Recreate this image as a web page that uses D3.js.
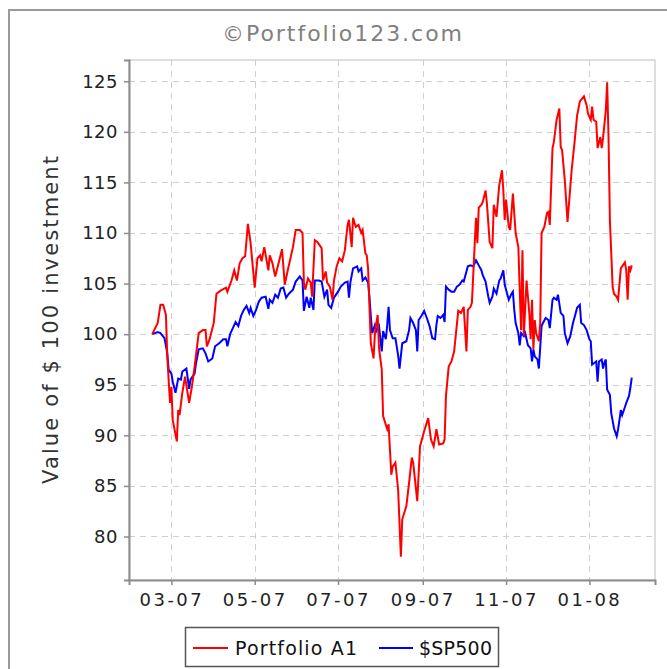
<!DOCTYPE html>
<html>
<head>
<meta charset="utf-8">
<script src="https://cdn.jsdelivr.net/npm/d3@7/dist/d3.min.js"></script>
<style>
  html, body { margin: 0; padding: 0; background: #fff; }
  svg { display: block; }
  text { font-family: "DejaVu Sans", sans-serif; }
</style>
</head>
<body>
<svg id="chart" width="667" height="669"></svg>
<script>
// ---------------- data ----------------
const chartTitle = "©Portfolio123.com";
const yAxisTitle = "Value of $ 100 investment";
const seriesNames = ["Portfolio A1", "$SP500"];
const seriesColors = ["#ff0000", "#0000ff"];
const yTicks = [80, 85, 90, 95, 100, 105, 110, 115, 120, 125];
const xTickLabels = ["03-07", "05-07", "07-07", "09-07", "11-07", "01-08"];
const baseDate = "2007-03-01"; // day offsets below are counted from this date

const portfolioDays = [-14,-10,-8,-6,-4,-3,-1,0,1,4,5,6,8,10,13,15,17,20,23,25,26,28,31,33,36,40,41,44,46,48,50,52,54,56,58,61,63,65,66,68,71,72,74,76,79,81,83,85,89,91,94,96,97,98,100,102,103,105,107,110,111,113,114,116,118,119,121,123,125,127,128,129,130,132,133,135,137,139,140,142,143,144,145,146,148,149,151,152,154,155,158,159,161,162,164,166,168,169,172,174,176,177,180,182,185,188,190,192,194,196,199,200,201,203,205,207,210,212,214,216,217,219,220,222,223,224,225,227,228,230,231,233,235,236,238,240,242,243,244,245,247,248,250,252,254,255,256,257,258,260,261,262,263,264,265,266,267,269,270,271,273,275,276,277,279,280,282,284,285,286,288,290,293,295,297,299,302,304,305,307,308,309,311,312,314,315,316,318,319,320,321,323,324,326,327,329,330,332,333,334,335,336,337];
const portfolioValues = [100.0,101.1,102.9,102.9,101.9,97.8,93.2,94.8,91.5,89.4,92.5,92.0,94.2,95.8,93.2,94.8,96.8,100.1,100.4,100.4,98.8,99.5,101.1,104.0,104.3,104.6,104.2,105.3,106.3,105.3,107.0,107.5,107.7,110.9,109.0,104.6,107.5,107.8,107.2,108.6,106.3,107.8,107.0,105.7,107.3,108.4,104.9,106.2,108.6,110.3,110.3,110.0,105.1,104.4,105.5,105.1,103.7,109.3,109.1,108.5,105.3,106.2,105.1,104.7,103.4,105.3,106.7,107.5,107.2,108.3,109.6,110.8,111.3,108.6,111.5,110.6,110.8,110.0,110.3,108.0,107.8,106.5,102.7,99.1,97.6,100.1,101.9,98.6,96.5,91.9,90.6,91.1,86.1,86.9,87.3,84.6,78.0,81.7,83.0,85.3,87.8,87.3,83.5,88.9,90.4,91.7,89.6,88.9,90.6,89.1,89.2,89.6,93.9,96.8,97.3,98.3,102.3,102.1,102.7,98.3,102.4,102.7,103.1,108.8,111.5,109.0,112.5,112.8,113.1,114.2,112.9,109.1,108.5,112.8,111.6,114.7,116.2,114.2,111.3,113.3,110.6,110.3,113.9,110.0,108.6,104.4,100.4,108.3,99.8,105.3,103.7,102.1,99.5,103.4,98.5,101.4,100.1,99.3,101.1,110.0,110.6,112.0,112.1,110.8,118.4,119.0,121.2,122.3,118.5,118.2,115.2,111.1,116.2,118.8,121.6,123.0,123.5,122.6,121.8,121.2,122.5,121.2,121.0,118.4,119.5,118.4,119.4,122.1,124.9,119.5,111.3,104.7,104.0,103.7,103.4,106.5,106.7,107.1,106.3,103.4,106.7,106.3,106.8];

const spDays = [-14,-10,-8,-5,-3,-2,0,1,3,5,7,8,11,13,14,17,18,20,23,25,27,30,32,35,38,40,41,43,45,47,49,51,53,55,57,58,60,62,64,66,69,71,72,74,76,78,80,82,84,86,89,91,94,96,97,99,101,102,104,105,108,110,112,114,115,117,119,122,124,127,129,130,131,133,136,137,139,140,142,144,145,146,147,149,150,152,154,155,157,158,159,160,162,164,166,167,169,172,174,175,177,179,180,181,183,185,187,189,191,193,194,195,197,199,200,201,203,205,207,209,211,213,214,216,217,219,221,223,225,227,228,230,232,233,235,236,238,240,241,243,244,245,247,249,250,251,252,254,255,256,258,259,261,263,264,265,266,268,269,271,272,274,276,277,279,280,282,283,285,287,288,290,292,294,296,297,299,300,302,304,306,307,308,310,311,312,313,315,316,317,318,319,321,322,324,326,327,328,329,330,332,333,335,336,337];
const spValues = [100.0,100.2,100.1,99.6,98.1,96.5,96.1,95.3,94.2,95.6,95.5,96.3,96.6,94.6,95.5,96.1,97.1,98.5,98.6,98.1,97.3,97.6,98.8,99.1,99.5,99.5,98.8,100.0,100.6,101.2,100.8,101.8,102.4,102.8,102.1,102.6,101.8,102.4,103.2,103.6,103.7,102.5,103.4,103.1,103.9,103.6,104.5,104.6,103.6,104.0,104.4,105.2,105.7,105.3,102.3,103.7,102.6,103.6,102.4,105.3,105.3,105.2,103.7,104.4,102.9,102.6,103.6,104.2,104.7,105.1,105.2,103.6,105.1,106.5,106.7,106.2,106.5,105.3,105.6,105.1,103.7,101.8,100.1,100.9,100.3,100.8,98.3,100.3,99.5,100.9,102.7,100.4,99.6,99.6,97.9,96.6,99.1,99.3,100.4,101.6,101.1,100.4,98.3,101.4,101.8,102.3,101.6,100.8,99.6,99.5,100.9,101.8,101.6,101.9,101.2,104.7,104.4,104.2,104.2,104.7,104.9,105.3,105.2,106.2,106.7,106.8,106.7,107.3,106.8,106.3,105.8,105.2,103.7,103.1,103.7,104.5,104.0,105.3,105.5,106.3,104.9,104.4,103.4,104.0,104.2,102.4,101.1,100.1,98.9,100.1,99.8,100.1,98.9,98.6,97.3,98.5,97.8,97.5,96.6,100.8,101.1,101.6,101.4,100.6,103.4,103.6,103.4,103.9,102.1,101.8,100.1,99.1,99.8,101.1,102.1,102.6,102.9,101.1,100.9,100.4,99.5,99.3,97.0,97.2,97.3,95.3,97.3,97.5,96.6,97.2,97.5,94.5,94.0,92.2,90.7,89.9,90.6,91.5,92.5,92.0,92.8,93.2,93.9,94.7,95.7];

// ---------------- layout ----------------
const svg = d3.select("#chart");
const W = 667, H = 669;
const plot = { left: 129, top: 60, right: 655, bottom: 580 };

const base = d3.utcParse("%Y-%m-%d")(baseDate);
const toDate = d => d3.utcDay.offset(base, d);
const series = [
  { name: seriesNames[0], color: seriesColors[0], pts: portfolioDays.map((d, i) => ({ date: toDate(d), value: portfolioValues[i] })) },
  { name: seriesNames[1], color: seriesColors[1], pts: spDays.map((d, i) => ({ date: toDate(d), value: spValues[i] })) }
];

// axis range with ~5% margin around the data, as in the source chart
const allDates = series.flatMap(s => s.pts.map(p => +p.date));
const dMin = d3.min(allDates), dMax = d3.max(allDates);
const pad = (dMax - dMin) * 0.0485;
const x = d3.scaleUtc().domain([new Date(dMin - pad), new Date(dMax + pad)]).range([plot.left, plot.right]);
const y = d3.scaleLinear().domain([75.7, 127.1]).range([plot.bottom, plot.top]);

// outer frame
svg.append("rect").attr("x", 9).attr("y", 10).attr("width", W + 20).attr("height", H + 20)
  .attr("fill", "#fff").attr("stroke", "#9a9a9a").attr("stroke-width", 2);

// title
svg.append("text").attr("x", 342).attr("y", 41).attr("text-anchor", "middle")
  .attr("font-size", 22).attr("fill", "#808080")
  .attr("textLength", 240).attr("lengthAdjust", "spacing")
  .text(chartTitle);

// plot background + border
svg.append("rect").attr("x", plot.left).attr("y", plot.top)
  .attr("width", plot.right - plot.left).attr("height", plot.bottom - plot.top)
  .attr("fill", "#fff").attr("stroke", "#c8c8c8").attr("stroke-width", 1.2);

const parseTick = d3.utcParse("%m-%y");
const xTickDates = xTickLabels.map(parseTick);

// gridlines
const grid = svg.append("g").attr("stroke", "#cfcfcf").attr("stroke-width", 1).attr("stroke-dasharray", "6,5");
grid.selectAll("line.h").data(yTicks).join("line")
  .attr("x1", plot.left).attr("x2", plot.right)
  .attr("y1", d => Math.round(y(d)) + 0.5).attr("y2", d => Math.round(y(d)) + 0.5);
grid.selectAll("line.v").data(xTickDates).join("line")
  .attr("y1", plot.top).attr("y2", plot.bottom)
  .attr("x1", d => Math.round(x(d)) + 0.5).attr("x2", d => Math.round(x(d)) + 0.5);

// series
svg.append("clipPath").attr("id", "clip").append("rect")
  .attr("x", plot.left).attr("y", plot.top)
  .attr("width", plot.right - plot.left).attr("height", plot.bottom - plot.top);
const line = d3.line().x(p => x(p.date)).y(p => y(p.value));
svg.append("g").attr("clip-path", "url(#clip)")
  .selectAll("path").data(series.slice().reverse()).join("path")
  .attr("d", s => line(s.pts))
  .attr("fill", "none").attr("stroke", s => s.color)
  .attr("stroke-width", 2).attr("stroke-linejoin", "miter");

// axes
const yAxis = d3.axisLeft(y).tickValues(yTicks).tickSize(5).tickPadding(6);
const gy = svg.append("g").attr("transform", `translate(${plot.left},0)`).call(yAxis);
const xAxis = d3.axisBottom(x).tickValues(xTickDates).tickFormat(d3.utcFormat("%m-%y")).tickSize(5).tickPadding(6);
const gx = svg.append("g").attr("transform", `translate(0,${plot.bottom})`).call(xAxis);
[gx, gy].forEach(g => {
  g.select(".domain").attr("stroke", "#8c8c8c").attr("stroke-width", 2);
  g.selectAll(".tick line").attr("stroke", "#8c8c8c").attr("stroke-width", 1.5);
  g.selectAll(".tick text").attr("fill", "#222").attr("font-size", 18)
    .attr("font-family", "DejaVu Sans, sans-serif");
});
gy.selectAll(".tick text").attr("letter-spacing", 0.5);
gx.selectAll(".tick text").attr("dy", "0.85em").attr("letter-spacing", 2.5);

// y axis title
svg.append("text").attr("transform", `translate(58,${(plot.top + plot.bottom) / 2}) rotate(-90)`)
  .attr("text-anchor", "middle").attr("font-size", 21).attr("fill", "#333")
  .attr("textLength", 328).attr("lengthAdjust", "spacing")
  .text(yAxisTitle);

// legend
const lg = svg.append("g");
lg.append("rect").attr("x", 185.5).attr("y", 627.5).attr("width", 313).attr("height", 39)
  .attr("fill", "#fff").attr("stroke", "#555").attr("stroke-width", 1.5);
const legendItems = [
  { x1: 193, x2: 228, tx: 235, tl: 122 },
  { x1: 379, x2: 413, tx: 419, tl: 73 }
];
series.forEach((s, i) => {
  const it = legendItems[i];
  lg.append("line").attr("x1", it.x1).attr("x2", it.x2).attr("y1", 648).attr("y2", 648)
    .attr("stroke", s.color).attr("stroke-width", 2);
  lg.append("text").attr("x", it.tx).attr("y", 655).attr("font-size", 19).attr("fill", "#111")
    .attr("textLength", it.tl).attr("lengthAdjust", "spacing").text(s.name);
});
</script>
</body>
</html>
